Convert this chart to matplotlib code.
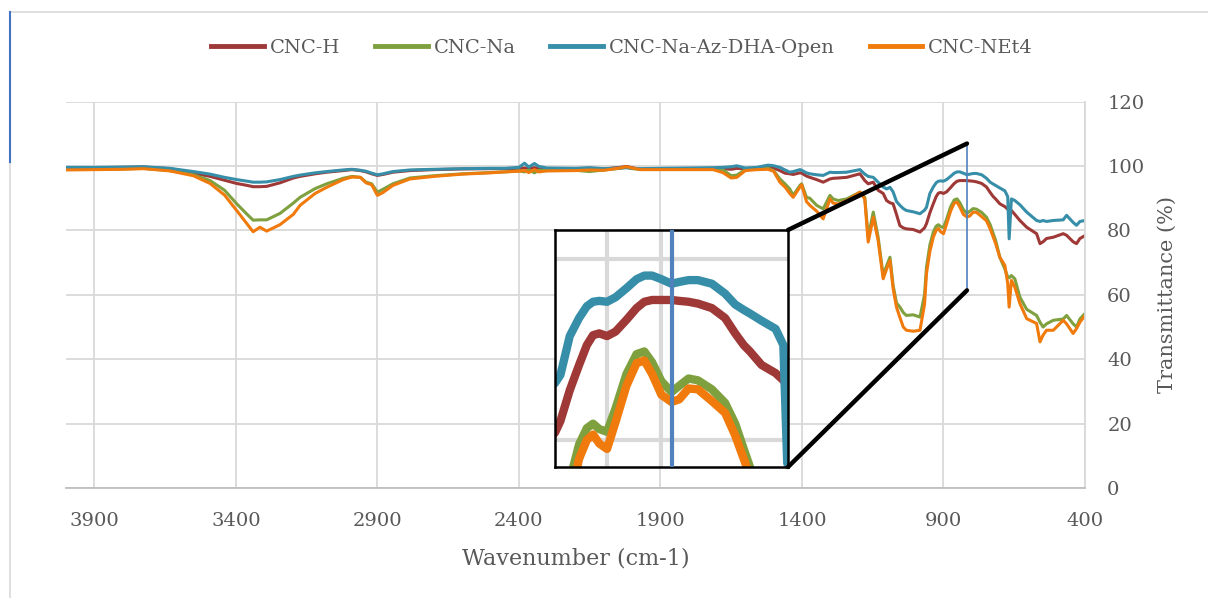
import matplotlib

matplotlib.use("Agg")
import matplotlib.pyplot as plt
from matplotlib.lines import Line2D
from matplotlib.patches import ConnectionPatch

# FTIR spectra (wavenumber in cm-1, transmittance in %)
wavenumber = [
    4000, 3900, 3800, 3727, 3633, 3550, 3491, 3440, 3397, 3360,
    3339, 3315, 3291, 3244, 3197, 3173, 3120, 3079, 3021, 2990,
    2960, 2940, 2920, 2900, 2880, 2845, 2785, 2700, 2600, 2500,
    2450, 2400, 2380, 2365, 2345, 2330, 2300, 2200, 2150, 2100,
    2043, 2020, 2000, 1970, 1900, 1800, 1714, 1680, 1650, 1630,
    1600, 1560, 1520, 1500, 1478, 1460, 1443, 1431, 1407, 1401,
    1384, 1372, 1348, 1325, 1301, 1290, 1272, 1242, 1195, 1178,
    1166, 1148, 1131, 1113, 1101, 1089, 1078, 1066, 1054, 1042,
    1031, 1007, 983, 967, 960, 948, 936, 926, 918, 910,
    900, 889, 875, 862, 852, 842, 830, 817, 807, 795,
    783, 765, 748, 735, 724, 716, 701, 683, 673, 668,
    660, 648, 630, 606, 571, 559, 548, 536, 512, 477,
    465, 442, 430, 418, 400,
]

cnc_h = [
    99.4, 99.5, 99.6, 99.7, 99.2, 97.8, 96.8, 95.6, 94.6, 94.0,
    93.6, 93.6, 93.7, 94.8, 96.3, 96.8, 97.6, 98.1, 98.6, 98.9,
    98.6, 98.2, 97.6, 97.1, 97.4, 98.1, 98.6, 98.9, 99.1, 99.2,
    99.2, 99.3, 99.4, 99.3, 99.5, 99.3, 99.2, 99.2, 99.3, 99.1,
    99.6, 99.9, 99.5, 99.0, 99.0, 99.1, 99.2, 99.2, 99.0, 99.3,
    99.1, 99.2, 99.6, 99.4, 98.6, 97.8, 97.6, 97.4, 97.9, 97.8,
    96.9, 96.5, 95.8, 95.0, 96.0, 96.2, 96.3, 96.5, 97.6, 95.5,
    94.5, 95.0, 92.5, 91.5, 89.3, 88.6, 88.3, 85.0, 81.5, 80.8,
    80.5, 80.3, 79.5, 80.8, 82.1, 85.5, 88.3, 90.5, 91.6, 91.8,
    91.5, 92.0, 93.3, 94.6, 95.3, 95.5, 95.5, 95.5, 95.4, 95.3,
    95.1, 94.6, 93.5, 91.8, 90.5, 89.8, 88.3, 87.4, 86.6, 86.4,
    86.2, 85.0, 83.1, 81.0, 79.0, 75.9, 76.5, 77.5, 77.9, 79.0,
    78.5, 76.5, 75.9, 77.5, 78.4,
]

cnc_na = [
    99.0, 99.0, 99.1, 99.3, 98.6, 97.3, 95.5, 92.5, 88.3, 85.0,
    83.2, 83.3, 83.3, 85.3, 88.5, 90.3, 93.0, 94.5, 96.2, 96.8,
    96.5, 95.0, 94.5, 91.9, 92.8, 94.5, 96.3, 97.0, 97.6, 98.0,
    98.2, 98.5, 98.2, 98.8, 97.9, 98.7, 98.6, 98.7, 98.3, 98.8,
    99.3, 99.6, 99.2, 99.0, 99.0, 99.1, 99.1, 98.9, 97.0, 97.2,
    98.9, 99.0, 99.3, 98.6, 96.0, 94.5, 92.9, 90.9, 94.0, 94.5,
    90.3, 90.0, 87.8, 86.7, 90.9, 89.8, 89.3, 89.8, 91.9, 90.3,
    77.9, 85.7, 78.0, 66.0, 69.0, 71.7, 63.0, 57.5, 56.2, 54.5,
    53.6, 53.8, 53.1, 60.0, 68.6, 75.5, 79.5, 81.3, 81.8, 81.2,
    80.9, 83.5, 87.3, 89.5, 89.8, 88.6, 86.5, 85.3, 86.0, 86.8,
    86.6, 85.6, 84.1, 81.8, 79.0, 77.0, 71.7, 68.0, 65.5, 65.3,
    66.0, 65.0, 59.3, 55.5, 53.6, 51.5, 50.0, 51.0, 52.1, 52.5,
    53.6, 51.0, 50.0, 52.5, 54.2,
]

cnc_na_az = [
    99.6, 99.6, 99.7, 99.8, 99.3, 98.3, 97.5, 96.5, 95.8, 95.3,
    95.0, 95.0, 95.1, 95.8, 96.8, 97.2, 97.9, 98.3, 98.8, 99.0,
    98.7, 98.4, 97.8, 97.3, 97.6, 98.3, 98.8, 99.0, 99.2, 99.3,
    99.3, 99.6, 100.9, 99.7, 100.8, 99.9, 99.4, 99.3, 99.5, 99.2,
    99.4, 99.5, 99.3, 99.2, 99.3, 99.4, 99.5, 99.6, 99.8, 100.1,
    99.4, 99.6, 100.3, 100.1, 99.6, 98.8, 98.1, 98.3, 98.9, 98.7,
    97.9, 97.6, 97.3, 97.1, 98.1, 98.0, 98.0, 98.1, 98.9, 97.5,
    96.8, 96.5, 95.0, 93.5, 92.9, 93.4, 92.0, 89.0, 87.8, 86.8,
    86.2, 85.8, 85.2, 86.3, 87.2, 91.5, 93.5, 94.8, 95.3, 95.4,
    95.3, 95.8, 96.8, 97.8, 98.2, 98.2, 97.8, 97.3, 97.5, 97.7,
    97.7, 97.3, 96.2, 95.0, 94.4, 94.0, 93.2, 92.3, 90.5, 77.4,
    89.8, 89.3, 88.0, 85.7, 83.1, 82.8, 83.1, 82.8, 83.1, 83.3,
    84.7, 82.5, 81.6, 82.8, 83.1,
]

cnc_net4 = [
    98.8, 98.9, 99.0, 99.2, 98.5, 97.0, 94.6, 91.0, 86.2, 82.0,
    79.6, 81.0, 79.8, 81.8, 85.0, 87.8, 91.5, 93.4, 95.8, 96.6,
    96.5, 94.8, 94.2, 90.9, 91.8, 94.0, 96.0, 96.8, 97.5, 97.9,
    98.2, 98.4, 98.6, 98.0, 98.9, 98.2, 98.5, 98.6, 98.8, 98.7,
    99.4, 99.8, 99.4, 98.9, 98.9, 98.9, 98.9, 98.0, 96.3, 96.5,
    98.6, 98.9, 99.0, 98.4, 95.0, 93.5, 91.5, 90.3, 93.5, 94.2,
    89.0, 87.8, 86.0, 83.6, 89.8, 88.5, 88.2, 89.3, 91.9, 89.8,
    76.4, 84.1, 77.0, 65.0, 68.0, 70.7, 62.0, 56.2, 53.0, 50.0,
    49.0, 48.7, 49.0, 57.0, 66.6, 73.5, 77.9, 80.0, 80.6, 79.6,
    79.0, 82.0, 86.0, 88.5, 88.8, 87.3, 85.0, 84.2, 84.5, 85.7,
    85.6, 84.3, 83.0, 80.5, 77.9, 76.0, 71.7, 69.1, 63.5, 56.2,
    64.5, 62.4, 57.3, 52.6, 51.1, 45.4, 47.5, 49.0, 49.0, 52.1,
    51.0, 48.0, 49.5, 51.5, 53.6,
]

series_names = ["CNC-H", "CNC-Na", "CNC-Na-Az-DHA-Open", "CNC-NEt4"]
series_colors = ["#9E3937", "#7FA03E", "#378EA8", "#F07A0C"]
x_ticks = [3900, 3400, 2900, 2400, 1900, 1400, 900, 400]
y_ticks = [0, 20, 40, 60, 80, 100, 120]

assert all(len(s) == len(wavenumber) for s in (cnc_h, cnc_na, cnc_na_az, cnc_net4))

plt.rcParams["font.family"] = ["DejaVu Serif"]
text_color = "#595959"
grid_color = "#D9D9D9"

fig = plt.figure(figsize=(12.08, 5.98), dpi=100)
fig.set_facecolor("white")

ax = fig.add_axes([66 / 1208, 1 - 488 / 598, 1019 / 1208, 386.3 / 598])
series = [cnc_h, cnc_na, cnc_na_az, cnc_net4]
handles = []
for name, color, values in zip(series_names, series_colors, series):
    (ln,) = ax.plot(wavenumber, values, color=color, lw=2.2, label=name,
                    solid_joinstyle="round")
    handles.append(ln)

ax.set_xlim(4000, 400)
ax.set_ylim(0, 120)
ax.set_xticks(x_ticks)
ax.set_yticks(y_ticks)
ax.yaxis.tick_right()
ax.yaxis.set_label_position("right")
ax.tick_params(axis="both", length=0, labelsize=14, colors=text_color)
ax.tick_params(axis="x", pad=17)
ax.tick_params(axis="y", pad=16)
for lbl in ax.get_yticklabels():
    lbl.set_horizontalalignment("left")
ax.grid(True, color=grid_color, lw=1.3)
ax.set_axisbelow(True)
for side in ("left", "top"):
    ax.spines[side].set_visible(False)
ax.spines["right"].set_color(grid_color)
ax.spines["right"].set_linewidth(1.3)
ax.spines["bottom"].set_color("#BFBFBF")
ax.spines["bottom"].set_linewidth(1.3)

ax.set_xlabel("Wavenumber (cm-1)", fontsize=16, color=text_color, labelpad=13)
ax.set_ylabel("Transmittance (%)", fontsize=15, color=text_color, labelpad=10)

# marker line on the main chart where the zoom is taken
ax.plot([817, 817], [61.4, 107.0], color="#4F81BD", lw=1.2, zorder=5)

# magnified inset
ax_in = fig.add_axes([555 / 1208, 1 - 467 / 598, 233 / 1208, 237 / 598])
for name, color, values in zip(series_names, series_colors, series):
    ax_in.plot(wavenumber, values, color=color, lw=6, solid_joinstyle="round",
               solid_capstyle="round")
ax_in.set_xlim(967, 667)
ax_in.set_ylim(77, 103.25)
ax_in.set_xticks([900, 830])
ax_in.set_yticks([80, 100])
ax_in.tick_params(length=0, labelbottom=False, labelleft=False)
ax_in.grid(True, color=grid_color, lw=3)
ax_in.set_axisbelow(True)
ax_in.axvline(817, color="#4F81BD", lw=3, zorder=5)
for sp in ax_in.spines.values():
    sp.set_color("black")
    sp.set_linewidth(1.8)

for corner, y_end in (((1, 1), 107.0), ((1, 0), 61.4)):
    con = ConnectionPatch(xyA=corner, coordsA=ax_in.transAxes,
                          xyB=(817, y_end), coordsB=ax.transData,
                          color="black", lw=3.2, capstyle="round", zorder=6)
    fig.add_artist(con)

fig.legend(handles=handles, loc="center", bbox_to_anchor=(0.515, 0.92), ncol=4,
           frameon=False, fontsize=14, handlelength=2.7, handletextpad=0.3,
           columnspacing=1.8, labelcolor=text_color)
for h in fig.legends[0].legend_handles:
    h.set_linewidth(3.5)

# chart frame remains along the top and left
fig.add_artist(Line2D([10 / 1208, 1], [1 - 12 / 598] * 2, color=grid_color,
                      lw=1.2, transform=fig.transFigure))
fig.add_artist(Line2D([10 / 1208] * 2, [0, 1 - 162 / 598], color=grid_color,
                      lw=1.2, transform=fig.transFigure))
fig.add_artist(Line2D([10 / 1208] * 2, [1 - 162 / 598, 1 - 12 / 598],
                      color="#4472C4", lw=1.5, transform=fig.transFigure))

fig.savefig("out.png", dpi=100)
